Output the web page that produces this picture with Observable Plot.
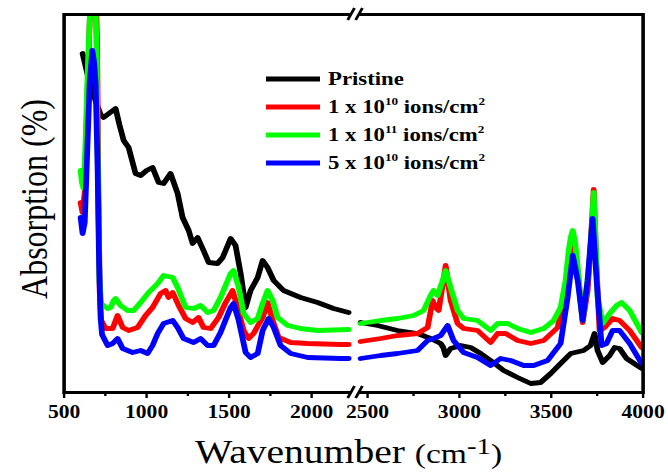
<!DOCTYPE html>
<html><head><meta charset="utf-8">
<script src="https://cdn.jsdelivr.net/npm/d3@7"></script>
<script src="https://cdn.jsdelivr.net/npm/@observablehq/plot@0.6"></script>
<style>
html,body{margin:0;padding:0;background:#fff;}
#chart{width:668px;height:472px;overflow:hidden;}
</style>
</head><body><div id="chart"></div>
<script>
// ---- data (wavenumber cm^-1, absorption in arbitrary units) ----
const seriesNames = ["Pristine", "1 x 10^10 ions/cm^2", "1 x 10^11 ions/cm^2", "5 x 10^10 ions/cm^2"];
const seriesColors = ["#000000", "#ff0000", "#00ff00", "#0000ff"];
const xTicks = [500, 1000, 1500, 2000, 2500, 3000, 3500, 4000];
const xMinorTicks = [750, 1250, 1750, 2750, 3250, 3750];
const xLabel = ["Wavenumber ", "(cm", "-1", ")"];
const yLabel = "Absorption (%)";

const pristineLeft = [[612,339],[648,314],[690,292],[721,278],[739,275],[812,284],[835,268],[861,252],[891,245],[933,219],[964,217],[1000,222],[1036,225],[1073,210],[1103,209],[1145,219],[1188,199],[1218,175],[1255,162],[1279,149],[1309,155],[1345,142],[1376,130],[1430,129],[1461,135],[1509,154],[1539,147],[1570,119],[1600,85],[1630,102],[1673,115],[1703,132],[1733,125],[1770,112],[1830,102],[1933,95],[2036,90],[2133,84],[2224,80]];
const pristineRight = [[2462,70],[2554,67],[2663,62],[2772,59],[2843,54],[2898,49],[2912,45],[2925,37],[2952,44],[3007,47],[3061,45],[3116,39],[3170,32],[3241,22],[3317,15],[3388,9],[3442,10],[3497,19],[3551,29],[3606,39],[3676,42],[3714,47],[3736,59],[3752,42],[3780,30],[3818,37],[3845,45],[3872,44],[3910,34],[3943,30],[3992,24]];

const ion1e10Left = [[600,190],[612,180],[625,200],[640,290],[655,370],[665,400],[692,400],[700,350],[708,200],[716,100],[725,72],[752,64],[794,64],[824,77],[855,65],[891,62],[945,65],[994,77],[1036,85],[1085,99],[1115,102],[1133,95],[1158,100],[1194,87],[1236,74],[1279,70],[1315,75],[1345,65],[1388,64],[1436,75],[1479,90],[1521,102],[1551,85],[1588,62],[1618,54],[1648,59],[1703,75],[1733,90],[1764,72],[1800,55],[1873,50],[1976,49],[2176,48],[2224,48]];
const ion1e10Right = [[2462,51],[2571,54],[2663,57],[2772,59],[2827,65],[2854,92],[2870,85],[2887,82],[2925,127],[2952,92],[2990,69],[3023,64],[3099,62],[3170,50],[3208,59],[3252,59],[3317,52],[3388,49],[3459,52],[3535,65],[3568,95],[3595,122],[3617,160],[3644,122],[3671,70],[3698,102],[3715,150],[3731,203],[3745,130],[3763,62],[3790,65],[3834,74],[3872,72],[3927,62],[3992,45]];

const ion1e11Left = [[600,222],[608,210],[618,204],[630,250],[645,330],[658,385],[670,400],[688,400],[697,340],[706,200],[715,110],[725,88],[739,87],[764,84],[782,85],[800,92],[812,94],[842,87],[885,82],[921,82],[964,90],[1012,100],[1067,109],[1103,117],[1158,115],[1188,105],[1236,85],[1285,84],[1327,87],[1370,80],[1406,82],[1448,95],[1509,119],[1527,122],[1558,105],[1588,79],[1630,70],[1673,74],[1703,89],[1733,102],[1764,92],[1794,75],[1855,67],[1933,64],[2036,62],[2224,63]];
const ion1e11Right = [[2462,69],[2571,72],[2663,74],[2751,77],[2805,82],[2843,97],[2859,102],[2881,97],[2909,112],[2925,122],[2952,105],[2990,82],[3023,74],[3099,72],[3170,62],[3208,69],[3263,69],[3317,64],[3388,60],[3459,64],[3513,72],[3551,85],[3578,112],[3595,142],[3606,155],[3617,162],[3630,150],[3644,125],[3660,90],[3671,72],[3687,95],[3714,142],[3731,200],[3742,150],[3752,95],[3780,69],[3818,79],[3856,87],[3883,90],[3927,82],[3992,60]];

const ion5e10Left = [[600,175],[612,159],[625,170],[640,240],[655,310],[671,342],[682,330],[691,309],[703,225],[712,130],[721,75],[730,58],[739,55],[764,47],[794,49],[824,54],[855,44],[915,40],[964,42],[1006,39],[1036,47],[1067,59],[1103,69],[1158,72],[1188,65],[1224,54],[1285,50],[1327,54],[1370,47],[1406,47],[1448,60],[1509,85],[1527,89],[1558,72],[1600,40],[1630,35],[1673,39],[1703,62],[1739,74],[1770,65],[1812,47],[1873,39],[1976,35],[2176,34],[2224,34]];
const ion5e10Right = [[2462,34],[2571,37],[2663,39],[2772,42],[2827,52],[2859,54],[2898,57],[2936,67],[2968,52],[3023,40],[3099,35],[3170,27],[3224,34],[3279,32],[3350,27],[3404,27],[3480,32],[3551,49],[3589,95],[3617,137],[3644,112],[3671,72],[3698,112],[3725,174],[3747,112],[3774,47],[3801,49],[3834,62],[3872,62],[3927,49],[3992,29]];

const leftPanels = [pristineLeft, ion1e10Left, ion1e11Left, ion5e10Left];
const rightPanels = [pristineRight, ion1e10Right, ion1e11Right, ion5e10Right];

// ---- layout ----
const W = 557, H = 472, S = 668 / W;           // drawn then stretched horizontally
const px = v => v / S;
const xDomain = [500, 2250, 2450, 4000];        // broken axis
const xRange = [63.5, 352.3, 357.8, 642.5].map(px);
const FONT = "'Liberation Serif','Times New Roman',Times,serif";

const rows = [];
seriesNames.forEach((s, i) => {
  [["L", leftPanels[i]], ["R", rightPanels[i]]].forEach(([p, arr]) =>
    arr.forEach(([w, v]) => rows.push({series: s, seg: s + "|" + p, w, v})));
});

const plot = Plot.plot({
  width: W, height: H,
  marginLeft: px(63.5), marginRight: W - px(642.5), marginTop: 14, marginBottom: 80,
  style: {fontFamily: FONT, background: "white", color: "black"},
  x: {type: "linear", domain: xDomain, range: xRange},
  y: {domain: [0, 378], axis: null},
  color: {domain: seriesNames, range: seriesColors},
  marks: [
    Plot.line(rows, {x: "w", y: "v", z: "seg", stroke: "series", strokeWidth: 4.8, clip: true,
      strokeLinejoin: "round", strokeLinecap: "round"}),
    Plot.frame({stroke: "black", strokeWidth: 3}),
    Plot.axisX({ticks: xTicks, tickSize: 6, tickPadding: 7, tickFormat: d => String(d),
      fontSize: 18, fontWeight: "bold", strokeWidth: 2, label: null}),
    Plot.axisX({ticks: xMinorTicks, tickSize: 4, tickFormat: () => "", strokeWidth: 2, label: null})
  ]
});

plot.setAttribute("width", 668);
plot.setAttribute("height", 472);
plot.setAttribute("preserveAspectRatio", "none");
plot.style.width = "668px";
plot.style.height = "472px";
plot.style.maxWidth = "none";
document.getElementById("chart").appendChild(plot);

const svg = d3.select(plot);
const xs = plot.scale("x");

// axis break marks
const xb = xs.apply(2350);
for (const y of [14, 392]) {
  const g = svg.append("g");
  g.append("rect").attr("x", xb - 3.5).attr("y", y - 3).attr("width", 7).attr("height", 6).attr("fill", "white");
  for (const dx of [-3.3, 3.3]) {
    g.append("line").attr("x1", xb + dx - 2.8).attr("y1", y + 6).attr("x2", xb + dx + 2.8).attr("y2", y - 6)
      .attr("stroke", "black").attr("stroke-width", 2.4);
  }
}

// axis titles
svg.append("text")
  .attr("transform", `translate(${px(47)},199) rotate(-90)`)
  .attr("text-anchor", "middle").attr("font-size", 32).attr("fill", "black")
  .style("font-family", FONT).text(yLabel);

const xl = svg.append("text").attr("x", px(195)).attr("y", 463)
  .attr("text-anchor", "start").attr("font-size", 33).attr("fill", "black").style("font-family", FONT);
xl.append("tspan").text(xLabel[0]);
xl.append("tspan").attr("font-size", 28).text(xLabel[1]);
xl.append("tspan").attr("font-size", 24).attr("dy", -9).text(xLabel[2]);
xl.append("tspan").attr("font-size", 28).attr("dy", 9).text(xLabel[3]);

// legend
const legendRows = [79, 107, 135, 163];
seriesNames.forEach((name, i) => {
  const y = legendRows[i];
  svg.append("line").attr("x1", px(266)).attr("x2", px(320)).attr("y1", y).attr("y2", y)
    .attr("stroke", seriesColors[i]).attr("stroke-width", 5);
  const t = svg.append("text").attr("x", px(328)).attr("y", y + 6.5)
    .attr("text-anchor", "start").attr("font-size", 19).attr("font-weight", "bold")
    .attr("fill", "black").style("font-family", FONT);
  const parts = name.split(/\^(\d+)/);
  parts.forEach((p, k) => {
    if (!p) return;
    if (k % 2 === 1) {
      t.append("tspan").attr("font-size", 11).attr("dy", -8).text(p);
    } else {
      const sp = t.append("tspan").text(p);
      if (k > 0) sp.attr("dy", 8);
    }
  });
});
</script>
</body></html>
